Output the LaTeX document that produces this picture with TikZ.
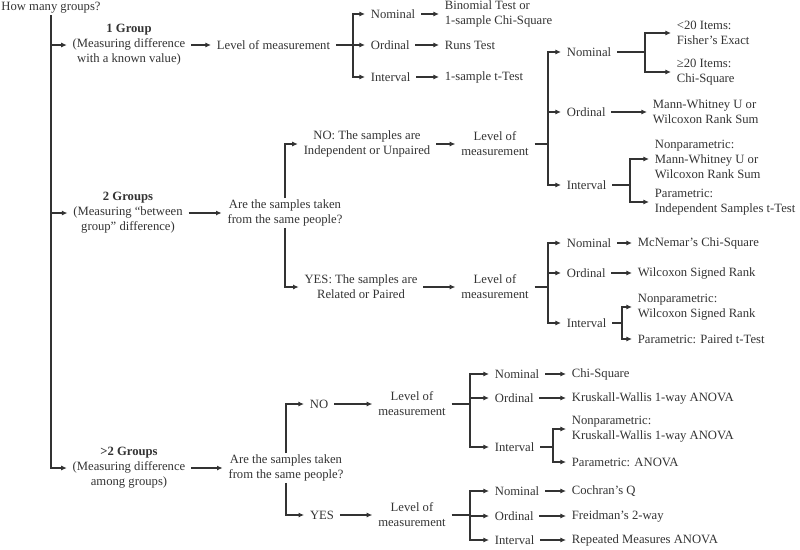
\documentclass[tikz,border=0pt]{standalone}
\usepackage{fontspec}
\setmainfont{Liberation Serif}
\usepackage{xcolor}
\usepackage{tikz}
\usetikzlibrary{arrows.meta}

\tikzset{
  txt/.style={font=\fontsize{9}{10.7}\selectfont, text=black!80, inner xsep=4pt, inner ysep=1pt},
  lft/.style={txt, align=left, anchor=west},
  ctr/.style={txt, align=center},
  ln/.style={draw=black!80, line width=0.8pt},
  arr/.style={ln, -{Latex[length=4pt,width=3.6pt]}},
}

\begin{document}
\begin{tikzpicture}[x=0.025cm,y=-0.025cm]
  \useasboundingbox (0,0) rectangle (800,549);
  % Root
  \node[ctr] (hmg) at (51,8) {How many groups?};
  \node[ctr] (g1) at (129,45) {\textbf{1 Group}\\(Measuring difference\\with a known value)};
  \node[ctr] (g2) at (128,213) {\textbf{2 Groups}\\(Measuring “between\\group” difference)};
  \node[ctr] (g3) at (129,468) {\textbf{>2 Groups}\\(Measuring difference\\among groups)};
  \foreach \g in {g1,g2,g3}
    \draw[arr] (hmg.south) |- (\g.west);

  % 1 Group
  \node[lft] (lm1) at (211,45) {Level of measurement};
  \coordinate (s1) at (353,45);
  \node[lft] (nom1) at (365,14) {Nominal};
  \node[lft] (ord1) at (365,45) {Ordinal};
  \node[lft] (int1) at (365,77) {Interval};
  \node[lft] (bin1) at (439,14) {Binomial Test or\\1-sample Chi-Square};
  \node[lft] (runs1) at (439,45) {Runs Test};
  \node[lft] (tt1) at (439,77) {1-sample t-Test};
  \draw[arr] (g1.east) -- (lm1.west);
  \draw[ln] (lm1.east) -- (s1);
  \foreach \n in {nom1,ord1,int1}
    \draw[arr] (s1) |- (\n.west);
  \draw[arr] (nom1.east) -- (bin1.west);
  \draw[arr] (ord1.east) -- (runs1.west);
  \draw[arr] (int1.east) -- (tt1.west);

  % 2 Groups
  \node[ctr] (q2) at (285,213) {Are the samples taken\\from the same people?};
  \node[ctr] (no2) at (367,144) {NO: The samples are\\Independent or Unpaired};
  \node[ctr] (yes2) at (361,287) {YES: The samples are\\Related or Paired};
  \node[ctr] (lm2a) at (495,144) {Level of\\measurement};
  \node[ctr] (lm2b) at (495,287) {Level of\\measurement};
  \draw[arr] (g2.east) -- (q2.west);
  \draw[arr] (q2.north) |- (no2.west);
  \draw[arr] (q2.south) |- (yes2.west);
  \draw[arr] (no2.east) -- (lm2a.west);
  \draw[arr] (yes2.east) -- (lm2b.west);

  % 2 Groups, independent
  \coordinate (s2a) at (548,144);
  \node[lft] (nom2a) at (561,52) {Nominal};
  \node[lft] (ord2a) at (561,112) {Ordinal};
  \node[lft] (int2a) at (561,185) {Interval};
  \draw[ln] (lm2a.east) -- (s2a);
  \foreach \n in {nom2a,ord2a,int2a}
    \draw[arr] (s2a) |- (\n.west);
  \coordinate (s2n) at (645,52);
  \node[lft] (fis) at (671,33) {<20 Items:\\Fisher’s Exact};
  \node[lft] (chi2) at (671,72) {≥20 Items:\\Chi-Square};
  \draw[ln] (nom2a.east) -- (s2n);
  \foreach \n in {fis,chi2}
    \draw[arr] (s2n) |- (\n.west);
  \node[lft] (mw) at (647,112) {Mann-Whitney U or\\Wilcoxon Rank Sum};
  \draw[arr] (ord2a.east) -- (mw.west);
  \coordinate (s2i) at (630,185);
  \node[lft] (npmw) at (649,159) {Nonparametric:\\Mann-Whitney U or\\Wilcoxon Rank Sum};
  \node[lft] (pist) at (649,202) {Parametric:\\Independent Samples t-Test};
  \draw[ln] (int2a.east) -- (s2i);
  \foreach \n in {npmw,pist}
    \draw[arr] (s2i) |- (\n.west);

  % 2 Groups, paired
  \coordinate (s2b) at (548,287);
  \node[lft] (nom2b) at (561,243) {Nominal};
  \node[lft] (ord2b) at (561,273) {Ordinal};
  \node[lft] (int2b) at (561,323) {Interval};
  \draw[ln] (lm2b.east) -- (s2b);
  \foreach \n in {nom2b,ord2b,int2b}
    \draw[arr] (s2b) |- (\n.west);
  \node[lft] (mcn) at (632,243) {McNemar’s Chi-Square};
  \node[lft] (wsr) at (632,273) {Wilcoxon Signed Rank};
  \draw[arr] (nom2b.east) -- (mcn.west);
  \draw[arr] (ord2b.east) -- (wsr.west);
  \coordinate (s2bi) at (622,323);
  \node[lft] (npws) at (632,307) {Nonparametric:\\Wilcoxon Signed Rank};
  \node[lft] (ppt) at (632,339) {Parametric: Paired t-Test};
  \draw[ln] (int2b.east) -- (s2bi);
  \foreach \n in {npws,ppt}
    \draw[arr] (s2bi) |- (\n.west);

  % >2 Groups
  \node[ctr] (q3) at (286,468) {Are the samples taken\\from the same people?};
  \node[ctr] (no3) at (319,404) {NO};
  \node[ctr] (yes3) at (322,515) {YES};
  \node[ctr] (lm3a) at (412,404) {Level of\\measurement};
  \node[ctr] (lm3b) at (412,515) {Level of\\measurement};
  \draw[arr] (g3.east) -- (q3.west);
  \draw[arr] (q3.north) |- (no3.west);
  \draw[arr] (q3.south) |- (yes3.west);
  \draw[arr] (no3.east) -- (lm3a.west);
  \draw[arr] (yes3.east) -- (lm3b.west);

  % >2 Groups, independent
  \coordinate (s3a) at (470,404);
  \node[lft] (nom3a) at (489,374) {Nominal};
  \node[lft] (ord3a) at (489,398) {Ordinal};
  \node[lft] (int3a) at (489,447) {Interval};
  \draw[ln] (lm3a.east) -- (s3a);
  \foreach \n in {nom3a,ord3a,int3a}
    \draw[arr] (s3a) |- (\n.west);
  \node[lft] (chi3) at (566,374) {Chi-Square};
  \node[lft] (kw3) at (566,398) {Kruskall-Wallis 1-way ANOVA};
  \draw[arr] (nom3a.east) -- (chi3.west);
  \draw[arr] (ord3a.east) -- (kw3.west);
  \coordinate (s3ai) at (553,447);
  \node[lft] (npkw) at (566,429) {Nonparametric:\\Kruskall-Wallis 1-way ANOVA};
  \node[lft] (pan) at (566,462) {Parametric: ANOVA};
  \draw[ln] (int3a.east) -- (s3ai);
  \foreach \n in {npkw,pan}
    \draw[arr] (s3ai) |- (\n.west);

  % >2 Groups, repeated
  \coordinate (s3b) at (470,515);
  \node[lft] (nom3b) at (489,491) {Nominal};
  \node[lft] (ord3b) at (489,516) {Ordinal};
  \node[lft] (int3b) at (489,540) {Interval};
  \draw[ln] (lm3b.east) -- (s3b);
  \foreach \n in {nom3b,ord3b,int3b}
    \draw[arr] (s3b) |- (\n.west);
  \node[lft] (coq) at (566,491) {Cochran’s Q};
  \node[lft] (fri) at (566,516) {Freidman’s 2-way};
  \node[lft] (rma) at (566,540) {Repeated Measures ANOVA};
  \draw[arr] (nom3b.east) -- (coq.west);
  \draw[arr] (ord3b.east) -- (fri.west);
  \draw[arr] (int3b.east) -- (rma.west);
\end{tikzpicture}
\end{document}
